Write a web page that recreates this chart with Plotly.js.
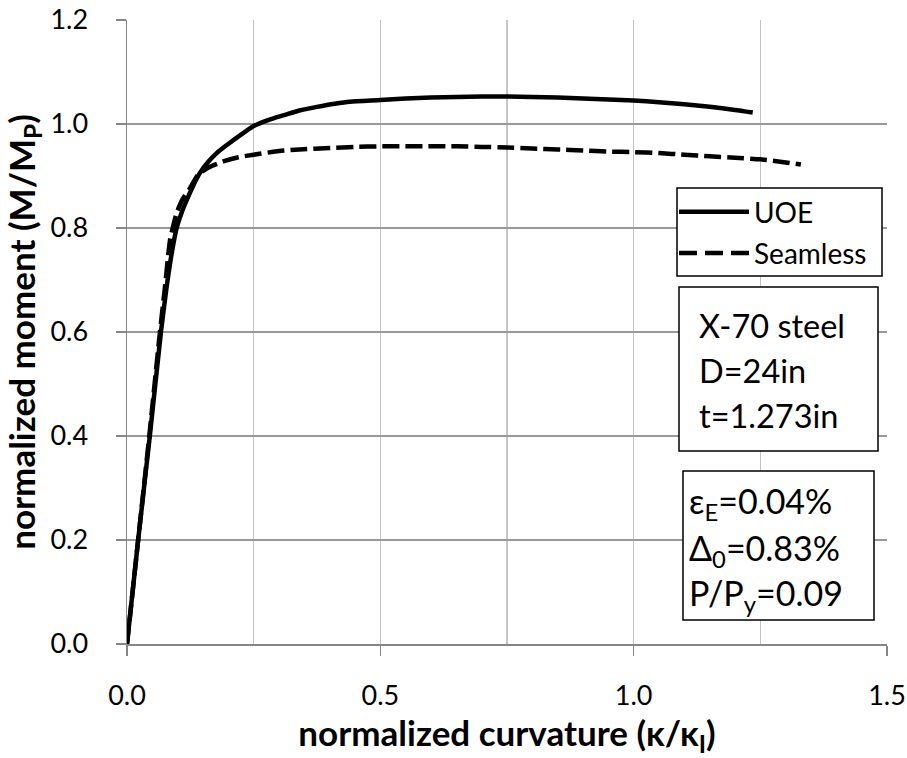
<!DOCTYPE html>
<html><head><meta charset="utf-8">
<script src="https://cdn.plot.ly/plotly-3.0.1.min.js"></script>
<style>html,body{margin:0;padding:0;background:#fff}#chart{width:907px;height:758px}</style>
</head><body><div id="chart"></div>
<script>
const seriesNames = ['UOE', 'Seamless'];
const uoeCurvature = [0, 0.022, 0.045, 0.067, 0.078, 0.088, 0.098, 0.108, 0.118, 0.13, 0.144, 0.16, 0.177, 0.195, 0.21, 0.23, 0.25, 0.28, 0.31, 0.34, 0.375, 0.41, 0.44, 0.5, 0.55, 0.6, 0.65, 0.7, 0.75, 0.8, 0.85, 0.9, 0.95, 1.0, 1.05, 1.1, 1.15, 1.2, 1.235];
const uoeMoment = [0, 0.2, 0.4, 0.6, 0.685, 0.75, 0.80, 0.83, 0.854, 0.88, 0.906, 0.927, 0.944, 0.958, 0.969, 0.983, 0.996, 1.008, 1.017, 1.026, 1.033, 1.039, 1.043, 1.046, 1.049, 1.051, 1.052, 1.053, 1.053, 1.052, 1.051, 1.049, 1.047, 1.045, 1.042, 1.038, 1.033, 1.027, 1.022];
const seamlessCurvature = [0, 0.022, 0.044, 0.065, 0.075, 0.085, 0.098, 0.11, 0.124, 0.14, 0.16, 0.19, 0.22, 0.25, 0.3, 0.34, 0.4, 0.45, 0.5, 0.55, 0.6, 0.65, 0.7, 0.75, 0.8, 0.85, 0.9, 0.95, 1.0, 1.05, 1.1, 1.15, 1.2, 1.25, 1.3, 1.33];
const seamlessMoment = [0, 0.2, 0.4, 0.6, 0.687, 0.777, 0.829, 0.856, 0.876, 0.902, 0.916, 0.928, 0.936, 0.941, 0.948, 0.951, 0.954, 0.956, 0.957, 0.957, 0.957, 0.957, 0.956, 0.955, 0.953, 0.951, 0.949, 0.947, 0.946, 0.944, 0.941, 0.938, 0.935, 0.932, 0.926, 0.922];
const xTickValues = [0, 0.5, 1.0, 1.5];
const xTickLabels = ['0.0', '0.5', '1.0', '1.5'];
const xTitle = 'normalized curvature (κ/κ<sub>I</sub>)';
const yTitle = 'normalized moment (M/M<sub>P</sub>)';
const specimenLines = ['X-70 steel', 'D=24in', 't=1.273in'];
const loadLines = ['ε<sub>E</sub>=0.04%', 'Δ<sub>0</sub>=0.83%', 'P/P<sub>y</sub>=0.09'];

// pixel -> data helpers (plot area: x 127..887, y 20..644)
const L = 127, T = 20, W = 760, H = 624;
const X = px => (px - L) / W * 1.5;
const Y = py => (T + H - py) / H * 1.2;
const FONT = 'Lato, "Open Sans", sans-serif';

const traces = [
  {x: uoeCurvature, y: uoeMoment, name: seriesNames[0], mode: 'lines', type: 'scatter',
   line: {color: '#000', width: 4.5, shape: 'spline', smoothing: 0.5}},
  {x: seamlessCurvature, y: seamlessMoment, name: seriesNames[1], mode: 'lines', type: 'scatter',
   line: {color: '#000', width: 4.5, dash: '17px,6px', shape: 'spline', smoothing: 0.5}}
];

const boxLine = {color: '#000', width: 1.5};
const shapes = [
  {type: 'rect', xref: 'x', yref: 'y', x0: X(677), x1: X(882), y0: Y(188), y1: Y(276), line: boxLine, fillcolor: '#fff', layer: 'above'},
  {type: 'rect', xref: 'x', yref: 'y', x0: X(679), x1: X(878), y0: Y(287), y1: Y(451), line: boxLine, fillcolor: '#fff', layer: 'above'},
  {type: 'rect', xref: 'x', yref: 'y', x0: X(683), x1: X(874), y0: Y(471), y1: Y(620), line: boxLine, fillcolor: '#fff', layer: 'above'},
  {type: 'line', xref: 'x', yref: 'y', x0: X(679), x1: X(749), y0: Y(211.7), y1: Y(211.7), line: {color: '#000', width: 4.5}, layer: 'above'},
  {type: 'line', xref: 'x', yref: 'y', x0: X(679), x1: X(749), y0: Y(253), y1: Y(253), line: {color: '#000', width: 4.5, dash: '18px,8px'}, layer: 'above'}
];

const annotations = [];
const legendY = [211.7, 253];
seriesNames.forEach((n, i) => annotations.push({
  xref: 'x', yref: 'y', x: X(752), y: Y(legendY[i]), text: n, showarrow: false,
  xanchor: 'left', yanchor: 'middle', font: {family: FONT, size: 28, color: '#000'}}));
const specY = [325.7, 370.5, 415.5];
specimenLines.forEach((t, i) => annotations.push({
  xref: 'x', yref: 'y', x: X(697), y: Y(specY[i]), text: t, showarrow: false,
  xanchor: 'left', yanchor: 'middle', font: {family: FONT, size: 32.5, color: '#000'}}));
const loadY = [503, 550, 595];
loadLines.forEach((t, i) => annotations.push({
  xref: 'x', yref: 'y', x: X(687), y: Y(loadY[i]), text: t, showarrow: false,
  xanchor: 'left', yanchor: 'middle', font: {family: FONT, size: 34, color: '#000'}}));

const layout = {
  width: 907, height: 758,
  margin: {l: L, r: 907 - L - W, t: T, b: 758 - T - H, pad: 0},
  paper_bgcolor: '#fff', plot_bgcolor: '#fff',
  showlegend: false,
  font: {family: FONT, color: '#000'},
  xaxis: {
    range: [0, 1.5], tickvals: xTickValues, ticktext: xTickLabels,
    showgrid: true, gridcolor: '#c4c4c4', gridwidth: 1.5,
    minor: {dtick: 0.25, tick0: 0, showgrid: true, gridcolor: '#c4c4c4', gridwidth: 1.5, ticks: ''},
    showline: true, linecolor: '#868686', linewidth: 1.5,
    ticks: 'outside', ticklen: 10, tickcolor: '#868686', tickwidth: 1.5,
    ticklabelstandoff: 17,
    tickfont: {family: FONT, size: 27, color: '#000'},
    zeroline: false, fixedrange: true,
    title: {text: xTitle, font: {family: FONT, size: 35, color: '#000', weight: 'bold'}, standoff: 12}
  },
  yaxis: {
    range: [0, 1.2], dtick: 0.2, tick0: 0, tickformat: '.1f',
    showgrid: true, gridcolor: '#999999', gridwidth: 1.5,
    showline: true, linecolor: '#868686', linewidth: 1.5,
    ticks: 'outside', ticklen: 10, tickcolor: '#868686', tickwidth: 1.5,
    ticklabelstandoff: 22,
    tickfont: {family: FONT, size: 27, color: '#000'},
    zeroline: false, fixedrange: true,
    title: {text: yTitle, font: {family: FONT, size: 35, color: '#000', weight: 'bold'}, standoff: 10}
  },
  shapes: shapes,
  annotations: annotations
};

Plotly.newPlot('chart', traces, layout, {displayModeBar: false, staticPlot: true});
</script>
</body></html>
